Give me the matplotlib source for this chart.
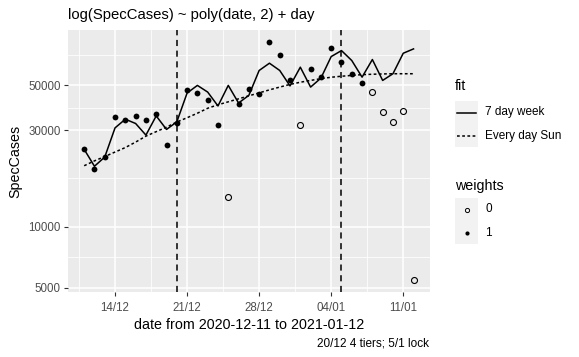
import numpy as np
import pandas as pd
import matplotlib
matplotlib.use('Agg')
import matplotlib.pyplot as plt
import matplotlib.dates as mdates
from matplotlib.lines import Line2D
from matplotlib.patches import Rectangle

plt.rcParams['font.family'] = ['Liberation Sans', 'DejaVu Sans']

# data
dates = pd.date_range('2020-12-11', '2021-01-12', freq='D')
spec_cases = [24100, 19300, 22000, 34800, 33900, 35100, 33900, 36000, 25300, 32600,
              47600, 45600, 42300, 32000, 14100, 40600, 48000, 45500, 82300, 71000,
              52900, 31900, 60600, 54900, 76600, 64900, 57100, 51600, 46300, 37000,
              32800, 37500, 5430]
weights = [1, 1, 1, 1, 1, 1, 1, 1, 1, 1, 1, 1, 1, 1, 0, 1, 1, 1, 1, 1,
           1, 0, 1, 1, 1, 1, 1, 1, 0, 0, 0, 0, 0]
fit_week = [24140, 19910, 22120, 30830, 34020, 32400, 28390, 35320, 30280, 33000,
            45830, 50000, 46340, 39560, 50000, 40920, 44650, 59260, 64380, 59260,
            49710, 61520, 49050, 54310, 69430, 74330, 66370, 54920, 67120, 52910,
            57100, 72110, 75770]
fit_sun = [20030, 21170, 22250, 23410, 24640, 26220, 28060, 29530, 31080, 32960,
           34600, 36420, 38540, 40100, 41480, 42910, 44400, 45930, 47520, 49050,
           50570, 51840, 52910, 54000, 54870, 55500, 56010, 56510, 56770, 56970,
           57100, 57100, 57100]
event_dates = ['2020-12-20', '2021-01-05']
y_breaks = [5000, 10000, 30000, 50000]
y_labels = ['5000', '10000', '30000', '50000']
y_minor_edges = [5000, 10000, 30000, 50000, 100000]

W, H = 579, 357
fig = plt.figure(figsize=(W / 100, H / 100), dpi=100)


def px(x, y):
    return x / W, 1 - y / H


left, right, top, bottom = 67.7, 430, 29.7, 292.3
ax = fig.add_axes([left / W, 1 - bottom / H, (right - left) / W, (bottom - top) / H])
ax.set_facecolor('#EBEBEB')
for s in ax.spines.values():
    s.set_visible(False)

x = mdates.date2num(dates)
cases = np.array(spec_cases)
w = np.array(weights)

ax.plot(x, fit_week, color='black', lw=1.1)
ax.plot(x, fit_sun, color='black', lw=1.1, linestyle=(0, (1.8, 1.6)))
ax.plot(x[w == 1], cases[w == 1], 'o', color='black', ms=4.2, mew=0)
ax.plot(x[w == 0], cases[w == 0], 'o', mfc='none', mec='black', ms=4.3, mew=0.8)
for d in event_dates:
    ax.axvline(mdates.date2num(pd.Timestamp(d)), color='black', lw=1.1,
               linestyle=(0, (4, 3)))

ax.set_yscale('log')
ax.set_yticks(y_breaks)
ax.set_yticklabels(y_labels)
# minor grid halfway (log space) between breaks
ax.set_yticks([np.sqrt(a * b) for a, b in zip(y_minor_edges[:-1], y_minor_edges[1:])],
              minor=True)
logs = np.log10(np.concatenate([cases, fit_week, fit_sun]))
pad = 0.05 * (logs.max() - logs.min())
ax.set_ylim(10 ** (logs.min() - pad), 10 ** (logs.max() + pad))

xpad = 0.05 * (x[-1] - x[0])
ax.xaxis.set_major_locator(mdates.WeekdayLocator(byweekday=mdates.MO))
ax.xaxis.set_major_formatter(mdates.DateFormatter('%d/%m'))
ax.set_xlim(x[0] - xpad, x[-1] + xpad)
majors = ax.get_xticks()
ax.set_xticks(list(np.concatenate([[majors[0] - 7], majors]) + 3.5), minor=True)
ax.set_xlim(x[0] - xpad, x[-1] + xpad)

ax.grid(True, which='major', color='white', lw=1.1)
ax.grid(True, which='minor', color='white', lw=0.55)
ax.set_axisbelow(True)
ax.tick_params(which='major', length=2.75, width=0.8, color='#333333',
               labelcolor='#4D4D4D', labelsize=8.3)
ax.tick_params(axis='x', which='major', pad=4.2)
ax.tick_params(axis='y', which='major', pad=2.2)
ax.tick_params(which='minor', length=0)

ax.set_ylabel('SpecCases', fontsize=10.3, labelpad=4)
ax.set_xlabel('date from 2020-12-11 to 2021-01-12', fontsize=10.3, labelpad=3)
fig.text(*px(left, 18.5), 'log(SpecCases) ~ poly(date, 2) + day', fontsize=10.7,
         ha='left', va='baseline')
fig.text(*px(429, 344), '20/12 4 tiers; 5/1 lock', fontsize=8.5,
         ha='right', va='center')

# legends drawn in figure pixels
kx, kw, kh = 455, 23, 23
fig.text(*px(kx, 86), 'fit', fontsize=10.3, ha='left', va='center')
for i, (lab, ls) in enumerate([('7 day week', '-'), ('Every day Sun', (0, (1.8, 1.6)))]):
    y0 = 101 + i * kh
    fig.add_artist(Rectangle(px(kx, y0 + kh), kw / W, kh / H, transform=fig.transFigure,
                             facecolor='#F2F2F2', edgecolor='none'))
    fig.add_artist(Line2D([(kx + 2) / W, (kx + kw - 2) / W], [1 - (y0 + kh / 2) / H] * 2,
                          transform=fig.transFigure, color='black', lw=1.1, linestyle=ls))
    fig.text(*px(kx + kw + 7, y0 + kh / 2), lab, fontsize=8.5, ha='left', va='center')

fig.text(*px(kx, 186), 'weights', fontsize=10.3, ha='left', va='center')
for i, lab in enumerate(['0', '1']):
    y0 = 198 + i * kh
    fig.add_artist(Rectangle(px(kx, y0 + kh), kw / W, kh / H, transform=fig.transFigure,
                             facecolor='#F2F2F2', edgecolor='none'))
    filled = lab == '1'
    fig.add_artist(Line2D([(kx + kw / 2) / W], [1 - (y0 + kh / 2) / H],
                          transform=fig.transFigure, marker='o', color='black',
                          mfc='black' if filled else 'none', mec='black',
                          ms=3.0, mew=0 if filled else 0.7, linestyle='none'))
    fig.text(*px(kx + kw + 7, y0 + kh / 2), lab, fontsize=8.5, ha='left', va='center')

fig.savefig('out.png', dpi=100)
